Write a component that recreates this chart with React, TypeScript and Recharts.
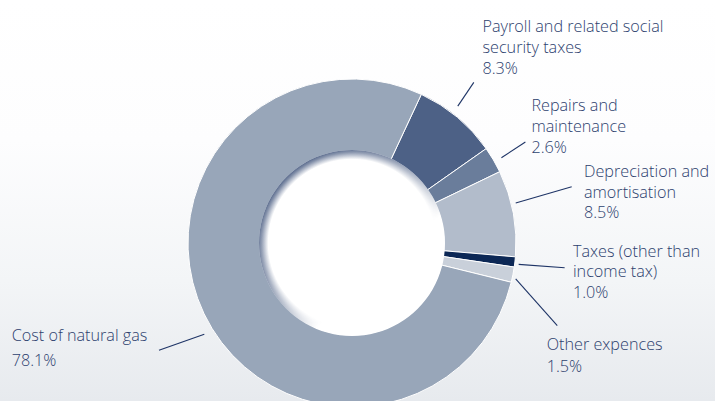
import { PieChart, Pie, Cell } from "recharts";

// cost structure, share of total (%)
const categories = [
  "Payroll and related social security taxes",
  "Repairs and maintenance",
  "Depreciation and amortisation",
  "Taxes (other than income tax)",
  "Other expences",
  "Cost of natural gas",
];
const shares = [8.3, 2.6, 8.5, 1.0, 1.5, 78.1];
const shareLabels = ["8.3%", "2.6%", "8.5%", "1.0%", "1.5%", "78.1%"];
const labelLines = [
  ["Payroll and related social", "security taxes"],
  ["Repairs and", "maintenance"],
  ["Depreciation and", "amortisation"],
  ["Taxes (other than", "income tax)"],
  ["Other expences"],
  ["Cost of natural gas"],
];

const COLORS = ["#4d6186", "#6a7d9b", "#b2bccb", "#0c2856", "#c9d0da", "#98a6b9"];
const TEXT = "#2d416e";
const LINE = "#1e3466";

// leader lines: start at (angle from 12 o'clock, radius), then offsets for line end and text
const labelLayout = [
  { a: 37.7, r: 173, dx: 16, dy: -23.7, tx: 8.7, ty: -50, lh: 21 },
  { a: 60.3, r: 172, dx: 24, dy: -15.7, tx: 6, ty: -31.3, lh: 21 },
  { a: 76.3, r: 168.5, dx: 56, dy: -16.3, tx: 12.3, ty: -9.3, lh: 20.5 },
  { a: 97.3, r: 168, dx: 46, dy: 3.4, tx: 8.3, ty: -11, lh: 20.5 },
  { a: 102.4, r: 167.6, dx: 41.6, dy: 46.7, tx: -10.6, ty: 24.3, lh: 21.7 },
  { a: 238.3, r: 173.6, dx: -45.3, dy: 16, tx: -147.3, ty: -9.3, lh: 25 },
];

const data = categories.map((name, i) => ({ name, value: shares[i] }));

const W = 715;
const H = 401;
const CX = 352;
const CY = 243;
const OUTER = 164;
const INNER = 93;

const renderLabel = (props: any) => {
  const { cx, cy, index } = props;
  const l = labelLayout[index];
  const rad = (l.a * Math.PI) / 180;
  const x1 = cx + l.r * Math.sin(rad);
  const y1 = cy - l.r * Math.cos(rad);
  const x2 = x1 + l.dx;
  const y2 = y1 + l.dy;
  const lines = [...labelLines[index], shareLabels[index]];
  return (
    <g key={`lbl-${index}`}>
      <line x1={x1} y1={y1} x2={x2} y2={y2} stroke={LINE} strokeWidth={1.1} />
      {lines.map((t, j) => (
        <text
          key={j}
          x={x2 + l.tx}
          y={y2 + l.ty + j * l.lh}
          fill={TEXT}
          fontSize={16.2}
          fontWeight={300}
          fontFamily="'Open Sans', sans-serif"
        >
          {t}
        </text>
      ))}
    </g>
  );
};

export default function App() {
  return (
    <div
      style={{
        width: W,
        height: H,
        position: "absolute",
        left: 0,
        top: 0,
        background: "linear-gradient(to bottom, #ffffff 0%, #fdfdfe 35%, #f3f5f7 70%, #e7eaee 100%)",
        overflow: "hidden",
      }}
    >
      <PieChart width={W} height={H} margin={{ top: 0, right: 0, bottom: 0, left: 0 }}>
        <defs>
          <radialGradient id="rimShade" gradientUnits="userSpaceOnUse" cx={CX} cy={CY} r={INNER}>
            <stop offset="0.9" stopColor="#4a5d82" stopOpacity={0} />
            <stop offset="0.97" stopColor="#4a5d82" stopOpacity={0.75} />
            <stop offset="1" stopColor="#4a5d82" stopOpacity={1} />
          </radialGradient>
          <linearGradient
            id="rimFade"
            gradientUnits="userSpaceOnUse"
            x1={CX - 75}
            y1={CY - 80}
            x2={CX + 25}
            y2={CY + 30}
          >
            <stop offset="0" stopColor="#ffffff" />
            <stop offset="0.45" stopColor="#ffffff" stopOpacity={0.7} />
            <stop offset="1" stopColor="#000000" />
          </linearGradient>
          <mask id="rimMask" maskUnits="userSpaceOnUse" x={0} y={0} width={W} height={H}>
            <rect x={0} y={0} width={W} height={H} fill="url(#rimFade)" />
          </mask>
        </defs>
        <Pie
          data={data}
          dataKey="value"
          nameKey="name"
          cx={CX}
          cy={CY}
          innerRadius={INNER - 1}
          outerRadius={OUTER}
          startAngle={65}
          endAngle={-295}
          stroke="#ffffff"
          strokeWidth={1}
          label={renderLabel}
          labelLine={false}
          isAnimationActive={false}
        >
          {data.map((d, i) => (
            <Cell key={d.name} fill={COLORS[i]} />
          ))}
        </Pie>
        <Pie
          data={[{ value: 1 }]}
          dataKey="value"
          cx={CX}
          cy={CY}
          innerRadius={0}
          outerRadius={INNER}
          stroke="none"
          fill="#ffffff"
          isAnimationActive={false}
        />
        <Pie
          data={[{ value: 1 }]}
          dataKey="value"
          cx={CX}
          cy={CY}
          innerRadius={INNER - 10}
          outerRadius={INNER}
          stroke="none"
          isAnimationActive={false}
        >
          <Cell fill="url(#rimShade)" mask="url(#rimMask)" />
        </Pie>
      </PieChart>
    </div>
  );
}
